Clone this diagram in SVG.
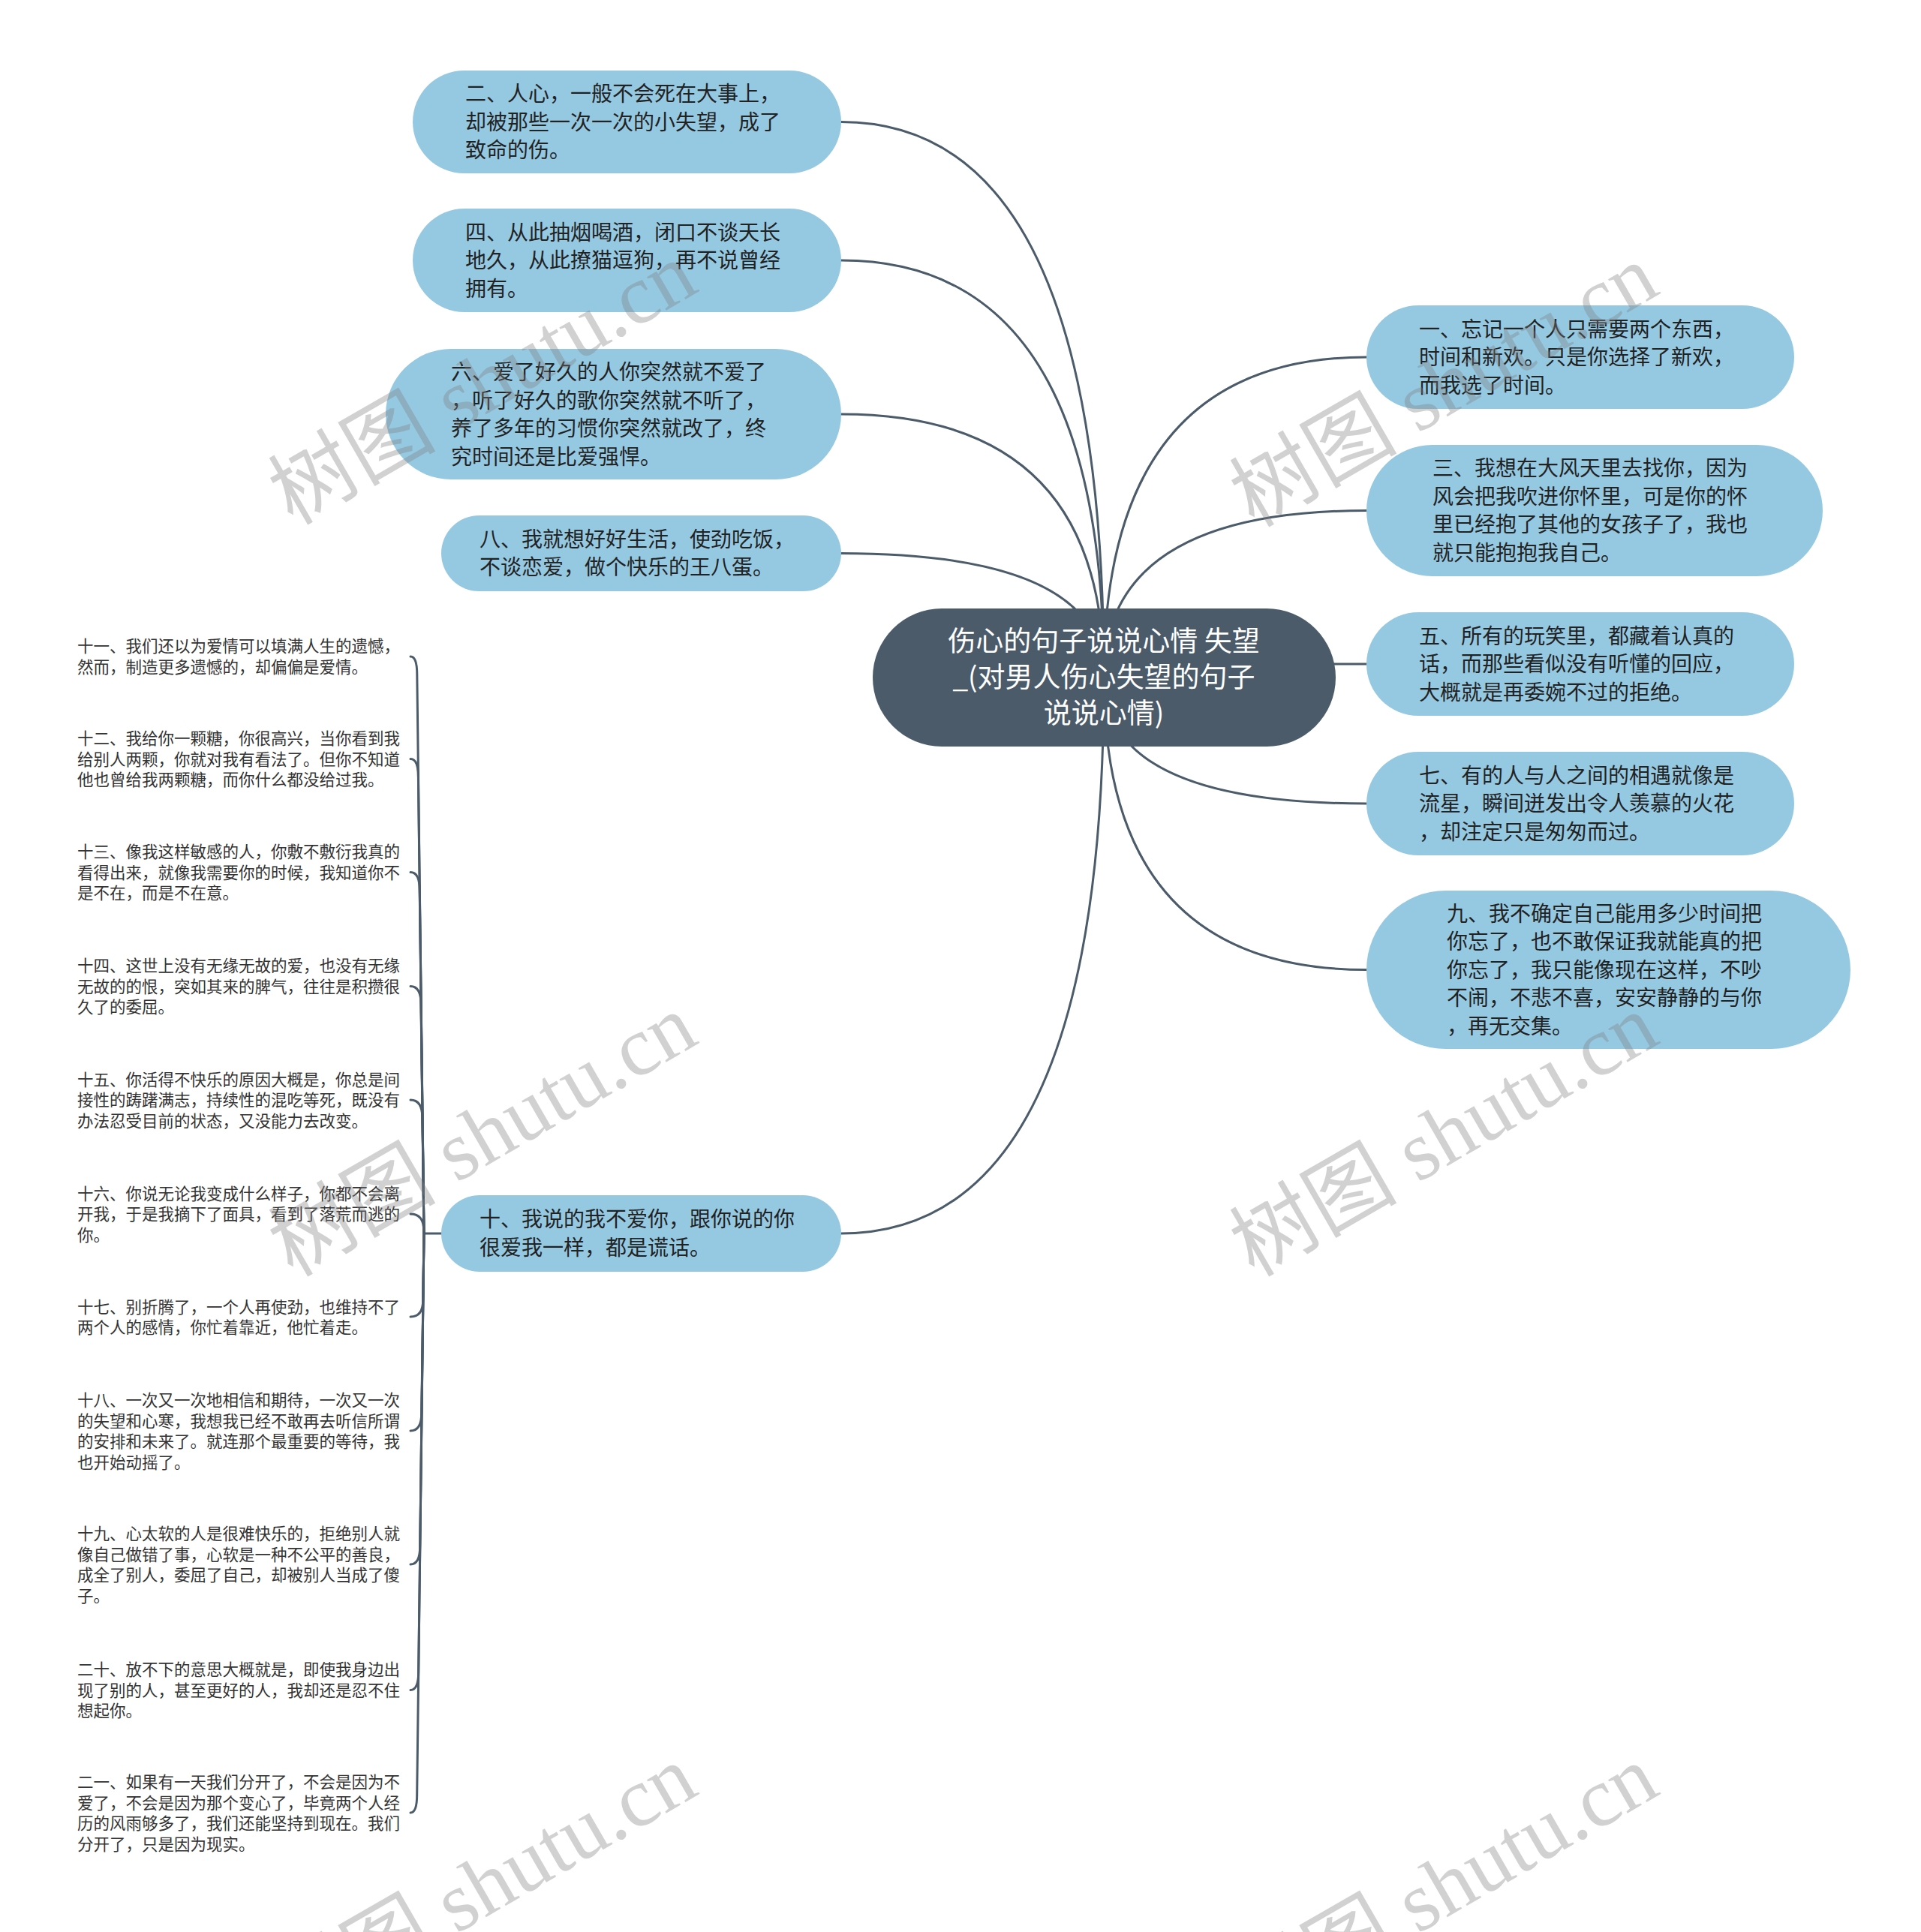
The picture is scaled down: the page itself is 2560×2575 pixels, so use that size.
<svg xmlns="http://www.w3.org/2000/svg" width="2560" height="2575" viewBox="0 0 2560 2575">
<style>
.bg{fill:#ffffff}
.node{fill:#95c9e2}
.root{fill:#4b5b6a}
.edge{fill:none;stroke:#4b5b6a;stroke-width:3;stroke-linecap:round}
.t{font-family:"Noto Sans CJK SC","Noto Sans",sans-serif;font-size:28px;fill:#222222}
.rt{font-family:"Noto Sans CJK SC","Noto Sans",sans-serif;font-size:37px;fill:#ffffff;text-anchor:middle}
.lt{font-family:"Noto Sans CJK SC","Noto Sans",sans-serif;font-size:21.5px;fill:#333333}
.wm{font-family:"Liberation Serif","Noto Sans CJK SC",serif;font-size:112px;fill:#808080;fill-opacity:0.36;text-anchor:middle}
</style>
<rect class="bg" x="0" y="0" width="2560" height="2575"/>
<g id="connectors">
<path class="edge" d="M1471,903 Q1471,162.5 1121,162.5"/>
<path class="edge" d="M1471,903 Q1471,347 1121,347"/>
<path class="edge" d="M1471,903 Q1471,552 1121,552"/>
<path class="edge" d="M1471,903 Q1471,737.5 1121,737.5"/>
<path class="edge" d="M1471,903 Q1471,1644 1121,1644"/>
<path class="edge" d="M1471,903 Q1471,476 1821,476"/>
<path class="edge" d="M1471,903 Q1471,680.5 1821,680.5"/>
<path class="edge" d="M1471,903 Q1471,885 1821,885"/>
<path class="edge" d="M1471,903 Q1471,1071 1821,1071"/>
<path class="edge" d="M1471,903 Q1471,1292.5 1821,1292.5"/>
<path class="edge" d="M588,1644 H565"/>
<path class="edge" d="M565,1644 L555.8,899 Q555.8,875 547,875"/>
<path class="edge" d="M565,1644 L557.4,1035.5 Q557.4,1011.5 547,1011.5"/>
<path class="edge" d="M565,1644 L559.2,1186.5 Q559.2,1162.5 547,1162.5"/>
<path class="edge" d="M565,1644 L561,1338.5 Q561,1314.5 547,1314.5"/>
<path class="edge" d="M565,1644 L562.9,1490 Q562.9,1466 547,1466"/>
<path class="edge" d="M565,1644 L564.7,1640 Q564.7,1618 547,1618"/>
<path class="edge" d="M565,1644 L563.7,1733 Q563.7,1755 547,1755"/>
<path class="edge" d="M565,1644 L561.8,1883 Q561.8,1907 547,1907"/>
<path class="edge" d="M565,1644 L559.7,2061 Q559.7,2085 547,2085"/>
<path class="edge" d="M565,1644 L557.7,2228.5 Q557.7,2252.5 547,2252.5"/>
<path class="edge" d="M565,1644 L555.7,2392 Q555.7,2416 547,2416"/>
</g>
<g id="root">
<rect class="root" x="1163" y="811" width="617" height="184" rx="92"/>
<text class="rt" x="1471" y="868">伤心的句子说说心情 失望</text>
<text class="rt" x="1471" y="916">_(对男人伤心失望的句子</text>
<text class="rt" x="1471" y="964">说说心情)</text>
</g>
<g id="n2">
<rect class="node" x="550" y="94" width="571" height="137" rx="68.5"/>
<text class="t" x="620" y="135">二、人心，一般不会死在大事上，</text>
<text class="t" x="620" y="172.5">却被那些一次一次的小失望，成了</text>
<text class="t" x="620" y="210">致命的伤。</text>
</g>
<g id="n4">
<rect class="node" x="550" y="278" width="571" height="138" rx="69"/>
<text class="t" x="620" y="319.5">四、从此抽烟喝酒，闭口不谈天长</text>
<text class="t" x="620" y="357">地久，从此撩猫逗狗，再不说曾经</text>
<text class="t" x="620" y="394.5">拥有。</text>
</g>
<g id="n6">
<rect class="node" x="514" y="465" width="607" height="174" rx="87"/>
<text class="t" x="601" y="506">六、爱了好久的人你突然就不爱了</text>
<text class="t" x="601" y="543.5">，听了好久的歌你突然就不听了，</text>
<text class="t" x="601" y="581">养了多年的习惯你突然就改了，终</text>
<text class="t" x="601" y="618.5">究时间还是比爱强悍。</text>
</g>
<g id="n8">
<rect class="node" x="588" y="687" width="533" height="101" rx="50.5"/>
<text class="t" x="639" y="728.75">八、我就想好好生活，使劲吃饭，</text>
<text class="t" x="639" y="766.25">不谈恋爱，做个快乐的王八蛋。</text>
</g>
<g id="n10">
<rect class="node" x="588" y="1593" width="533" height="102" rx="51"/>
<text class="t" x="639" y="1635.25">十、我说的我不爱你，跟你说的你</text>
<text class="t" x="639" y="1672.75">很爱我一样，都是谎话。</text>
</g>
<g id="n1">
<rect class="node" x="1821" y="407" width="570" height="138" rx="69"/>
<text class="t" x="1891" y="448.5">一、忘记一个人只需要两个东西，</text>
<text class="t" x="1891" y="486">时间和新欢。只是你选择了新欢，</text>
<text class="t" x="1891" y="523.5">而我选了时间。</text>
</g>
<g id="n3">
<rect class="node" x="1821" y="593" width="608" height="175" rx="87.5"/>
<text class="t" x="1909" y="634.25">三、我想在大风天里去找你，因为</text>
<text class="t" x="1909" y="671.75">风会把我吹进你怀里，可是你的怀</text>
<text class="t" x="1909" y="709.25">里已经抱了其他的女孩子了，我也</text>
<text class="t" x="1909" y="746.75">就只能抱抱我自己。</text>
</g>
<g id="n5">
<rect class="node" x="1821" y="816" width="570" height="138" rx="69"/>
<text class="t" x="1891" y="857.5">五、所有的玩笑里，都藏着认真的</text>
<text class="t" x="1891" y="895">话，而那些看似没有听懂的回应，</text>
<text class="t" x="1891" y="932.5">大概就是再委婉不过的拒绝。</text>
</g>
<g id="n7">
<rect class="node" x="1821" y="1002" width="570" height="138" rx="69"/>
<text class="t" x="1891" y="1043.5">七、有的人与人之间的相遇就像是</text>
<text class="t" x="1891" y="1081">流星，瞬间迸发出令人羡慕的火花</text>
<text class="t" x="1891" y="1118.5">，却注定只是匆匆而过。</text>
</g>
<g id="n9">
<rect class="node" x="1821" y="1187" width="645" height="211" rx="105.5"/>
<text class="t" x="1928" y="1227.5">九、我不确定自己能用多少时间把</text>
<text class="t" x="1928" y="1265">你忘了，也不敢保证我就能真的把</text>
<text class="t" x="1928" y="1302.5">你忘了，我只能像现在这样，不吵</text>
<text class="t" x="1928" y="1340">不闹，不悲不喜，安安静静的与你</text>
<text class="t" x="1928" y="1377.5">，再无交集。</text>
</g>
<g id="n11">
<text class="lt" x="103" y="869">十一、我们还以为爱情可以填满人生的遗憾，</text>
<text class="lt" x="103" y="896.5">然而，制造更多遗憾的，却偏偏是爱情。</text>
</g>
<g id="n12">
<text class="lt" x="103" y="992">十二、我给你一颗糖，你很高兴，当你看到我</text>
<text class="lt" x="103" y="1019.5">给别人两颗，你就对我有看法了。但你不知道</text>
<text class="lt" x="103" y="1047">他也曾给我两颗糖，而你什么都没给过我。</text>
</g>
<g id="n13">
<text class="lt" x="103" y="1143">十三、像我这样敏感的人，你敷不敷衍我真的</text>
<text class="lt" x="103" y="1170.5">看得出来，就像我需要你的时候，我知道你不</text>
<text class="lt" x="103" y="1198">是不在，而是不在意。</text>
</g>
<g id="n14">
<text class="lt" x="103" y="1295">十四、这世上没有无缘无故的爱，也没有无缘</text>
<text class="lt" x="103" y="1322.5">无故的的恨，突如其来的脾气，往往是积攒很</text>
<text class="lt" x="103" y="1350">久了的委屈。</text>
</g>
<g id="n15">
<text class="lt" x="103" y="1446.5">十五、你活得不快乐的原因大概是，你总是间</text>
<text class="lt" x="103" y="1474">接性的踌躇满志，持续性的混吃等死，既没有</text>
<text class="lt" x="103" y="1501.5">办法忍受目前的状态，又没能力去改变。</text>
</g>
<g id="n16">
<text class="lt" x="103" y="1598.5">十六、你说无论我变成什么样子，你都不会离</text>
<text class="lt" x="103" y="1626">开我，于是我摘下了面具，看到了落荒而逃的</text>
<text class="lt" x="103" y="1653.5">你。</text>
</g>
<g id="n17">
<text class="lt" x="103" y="1749.5">十七、别折腾了，一个人再使劲，也维持不了</text>
<text class="lt" x="103" y="1777">两个人的感情，你忙着靠近，他忙着走。</text>
</g>
<g id="n18">
<text class="lt" x="103" y="1874">十八、一次又一次地相信和期待，一次又一次</text>
<text class="lt" x="103" y="1901.5">的失望和心寒，我想我已经不敢再去听信所谓</text>
<text class="lt" x="103" y="1929">的安排和未来了。就连那个最重要的等待，我</text>
<text class="lt" x="103" y="1956.5">也开始动摇了。</text>
</g>
<g id="n19">
<text class="lt" x="103" y="2052">十九、心太软的人是很难快乐的，拒绝别人就</text>
<text class="lt" x="103" y="2079.5">像自己做错了事，心软是一种不公平的善良，</text>
<text class="lt" x="103" y="2107">成全了别人，委屈了自己，却被别人当成了傻</text>
<text class="lt" x="103" y="2134.5">子。</text>
</g>
<g id="n20">
<text class="lt" x="103" y="2233">二十、放不下的意思大概就是，即使我身边出</text>
<text class="lt" x="103" y="2260.5">现了别的人，甚至更好的人，我却还是忍不住</text>
<text class="lt" x="103" y="2288">想起你。</text>
</g>
<g id="n21">
<text class="lt" x="103" y="2383">二一、如果有一天我们分开了，不会是因为不</text>
<text class="lt" x="103" y="2410.5">爱了，不会是因为那个变心了，毕竟两个人经</text>
<text class="lt" x="103" y="2438">历的风雨够多了，我们还能坚持到现在。我们</text>
<text class="lt" x="103" y="2465.5">分开了，只是因为现实。</text>
</g>
<g id="watermarks">
<text class="wm" x="662" y="544" transform="rotate(-30 662 544)">树图 shutu.cn</text>
<text class="wm" x="1943" y="547" transform="rotate(-30 1943 547)">树图 shutu.cn</text>
<text class="wm" x="662" y="1546" transform="rotate(-30 662 1546)">树图 shutu.cn</text>
<text class="wm" x="1943" y="1546" transform="rotate(-30 1943 1546)">树图 shutu.cn</text>
<text class="wm" x="662" y="2547" transform="rotate(-30 662 2547)">树图 shutu.cn</text>
<text class="wm" x="1943" y="2547" transform="rotate(-30 1943 2547)">树图 shutu.cn</text>
</g>
</svg>
